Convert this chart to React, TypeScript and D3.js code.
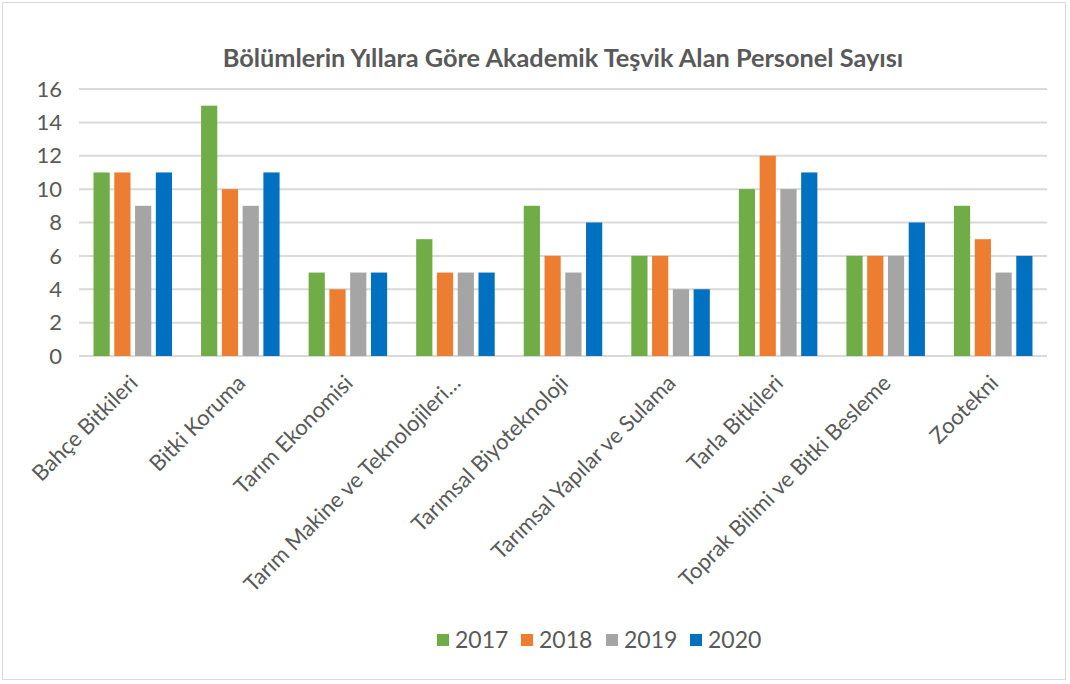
import React, { useEffect, useRef } from 'react';
import * as d3 from 'd3';

const categories = [
  'Bahçe Bitkileri',
  'Bitki Koruma',
  'Tarım Ekonomisi',
  'Tarım Makine ve Teknolojileri…',
  'Tarımsal Biyoteknoloji',
  'Tarımsal Yapılar ve Sulama',
  'Tarla Bitkileri',
  'Toprak Bilimi ve Bitki Besleme',
  'Zootekni',
];
const years = ['2017', '2018', '2019', '2020'];
const values2017 = [11, 15, 5, 7, 9, 6, 10, 6, 9];
const values2018 = [11, 10, 4, 5, 6, 6, 12, 6, 7];
const values2019 = [9, 9, 5, 5, 5, 4, 10, 6, 5];
const values2020 = [11, 11, 5, 5, 8, 4, 11, 8, 6];
const yTicks = [0, 2, 4, 6, 8, 10, 12, 14, 16];
const colors = ['#70AD47', '#ED7D31', '#A5A5A5', '#0070C0'];

const App: React.FC = () => {
  const ref = useRef<SVGSVGElement>(null);

  useEffect(() => {
    const W = 1070, H = 684;
    const margin = { top: 89, right: 23, bottom: 328, left: 79 };
    const width = W - margin.left - margin.right;
    const height = H - margin.top - margin.bottom;
    const series = [values2017, values2018, values2019, values2020];
    const font = 'Lato, "Open Sans", sans-serif';

    const svg = d3.select(ref.current);
    svg.selectAll('*').remove();

    svg.append('rect')
      .attr('x', 2.5).attr('y', 2.5)
      .attr('width', W - 7).attr('height', H - 7)
      .attr('fill', '#fff')
      .attr('stroke', '#D9D9D9');

    svg.append('text')
      .attr('x', 563).attr('y', 67)
      .attr('text-anchor', 'middle')
      .attr('font-family', font)
      .attr('font-weight', 'bold')
      .attr('font-size', 25.3)
      .attr('fill', '#595959')
      .text('Bölümlerin Yıllara Göre Akademik Teşvik Alan Personel Sayısı');

    const g = svg.append('g').attr('transform', `translate(${margin.left},${margin.top})`);

    const x0 = d3.scaleBand().domain(categories).range([0, width]).paddingInner(0.27).paddingOuter(0.135);
    const x1 = d3.scaleBand().domain(years).range([0, x0.bandwidth()]).paddingInner(0.22);
    const y = d3.scaleLinear().domain([0, 16]).range([height, 0]);

    // grid
    g.append('g')
      .selectAll('line')
      .data(yTicks)
      .enter().append('line')
      .attr('x1', 0).attr('x2', width)
      .attr('y1', d => y(d)).attr('y2', d => y(d))
      .attr('stroke', '#D9D9D9')
      .attr('stroke-width', 2);

    // y labels
    g.append('g')
      .selectAll('text')
      .data(yTicks)
      .enter().append('text')
      .attr('x', -17)
      .attr('y', d => y(d))
      .attr('dy', '0.35em')
      .attr('text-anchor', 'end')
      .attr('font-family', font)
      .attr('font-size', 22)
      .attr('fill', '#595959')
      .text(d => d);

    // bars
    years.forEach((yr, si) => {
      g.append('g')
        .selectAll('rect')
        .data(series[si])
        .enter().append('rect')
        .attr('x', (d, i) => (x0(categories[i]) ?? 0) + (x1(yr) ?? 0))
        .attr('y', d => y(d))
        .attr('width', x1.bandwidth())
        .attr('height', d => height - y(d))
        .attr('fill', colors[si]);
    });

    // category labels
    g.append('g')
      .selectAll('text')
      .data(categories)
      .enter().append('text')
      .attr('transform', d => `translate(${(x0(d) ?? 0) + x0.bandwidth() / 2 + 1},${height + 23}) rotate(-45)`)
      .attr('text-anchor', 'end')
      .attr('dy', '0.35em')
      .attr('font-family', font)
      .attr('font-size', 22)
      .attr('fill', '#595959')
      .text(d => d);

    // legend
    const legendX = [437, 521, 606, 690];
    const legend = svg.append('g');
    years.forEach((yr, i) => {
      legend.append('rect')
        .attr('x', legendX[i]).attr('y', 634)
        .attr('width', 12).attr('height', 12)
        .attr('fill', colors[i]);
      legend.append('text')
        .attr('x', legendX[i] + 18).attr('y', 640)
        .attr('dy', '0.36em')
        .attr('font-family', font)
        .attr('font-size', 23)
        .attr('fill', '#595959')
        .text(yr);
    });
  }, []);

  return (
    <svg ref={ref} width={1070} height={684} style={{ position: 'absolute', left: 0, top: 0 }} />
  );
};

export default App;
